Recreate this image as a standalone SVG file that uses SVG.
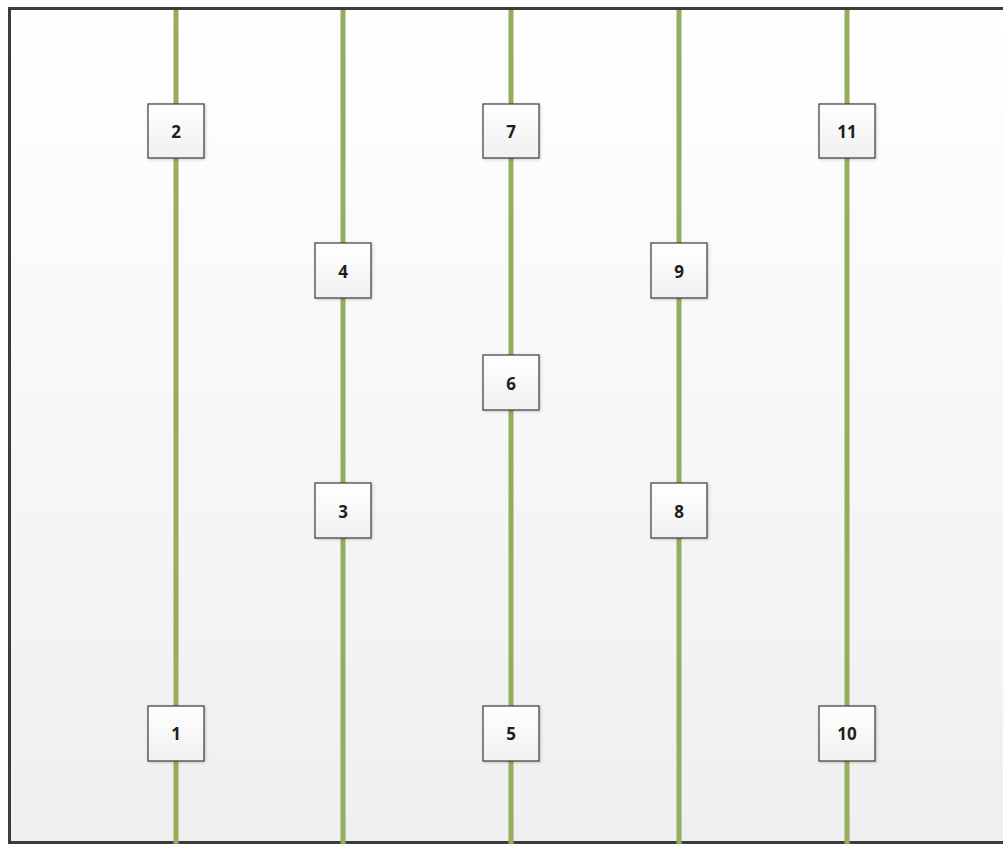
<svg xmlns="http://www.w3.org/2000/svg" width="1003" height="844" viewBox="0 0 1003 844">
<defs>
<linearGradient id="bg" x1="0" y1="0" x2="0" y2="1">
<stop offset="0" stop-color="#ffffff"/>
<stop offset="1" stop-color="#efefef"/>
</linearGradient>
<linearGradient id="box" x1="0" y1="0" x2="0" y2="1">
<stop offset="0" stop-color="#ffffff"/>
<stop offset="1" stop-color="#f0f0f0"/>
</linearGradient>
<filter id="sh" x="-20%" y="-20%" width="140%" height="140%">
<feDropShadow dx="1" dy="1" stdDeviation="1.5" flood-color="#000" flood-opacity="0.2"/>
</filter>
</defs>
<style>
.ln{stroke:#94ae5c;stroke-width:5;fill:none}
.bx{fill:url(#box);stroke:#3a3a3a;stroke-width:1.2;filter:url(#sh)}
.t{font-family:"Open Sans","Liberation Sans",sans-serif;font-weight:bold;font-size:17px;fill:#1e1e1e;text-anchor:middle;dominant-baseline:central}
</style>
<rect x="0" y="0" width="1003" height="844" fill="#ffffff"/>
<rect x="9.5" y="8.5" width="1000" height="834" fill="url(#bg)" stroke="#3c3c3c" stroke-width="3"/>
<g id="connectors">
<line class="ln" x1="176" y1="10" x2="176" y2="844"/>
<line class="ln" x1="343" y1="10" x2="343" y2="844"/>
<line class="ln" x1="511" y1="10" x2="511" y2="844"/>
<line class="ln" x1="679" y1="10" x2="679" y2="844"/>
<line class="ln" x1="847" y1="10" x2="847" y2="844"/>
</g>
<g id="n2"><rect class="bx" x="148" y="104" width="56" height="54"/><text class="t" x="176" y="131">2</text></g>
<g id="n7"><rect class="bx" x="483" y="104" width="56" height="54"/><text class="t" x="511" y="131">7</text></g>
<g id="n11"><rect class="bx" x="819" y="104" width="56" height="54"/><text class="t" x="847" y="131">11</text></g>
<g id="n4"><rect class="bx" x="315" y="243" width="56" height="55"/><text class="t" x="343" y="271">4</text></g>
<g id="n9"><rect class="bx" x="651" y="243" width="56" height="55"/><text class="t" x="679" y="271">9</text></g>
<g id="n6"><rect class="bx" x="483" y="355" width="56" height="55"/><text class="t" x="511" y="383">6</text></g>
<g id="n3"><rect class="bx" x="315" y="483" width="56" height="55"/><text class="t" x="343" y="511">3</text></g>
<g id="n8"><rect class="bx" x="651" y="483" width="56" height="55"/><text class="t" x="679" y="511">8</text></g>
<g id="n1"><rect class="bx" x="148" y="706" width="56" height="55"/><text class="t" x="176" y="733">1</text></g>
<g id="n5"><rect class="bx" x="483" y="706" width="56" height="55"/><text class="t" x="511" y="733">5</text></g>
<g id="n10"><rect class="bx" x="819" y="706" width="56" height="55"/><text class="t" x="847" y="733">10</text></g>
</svg>
